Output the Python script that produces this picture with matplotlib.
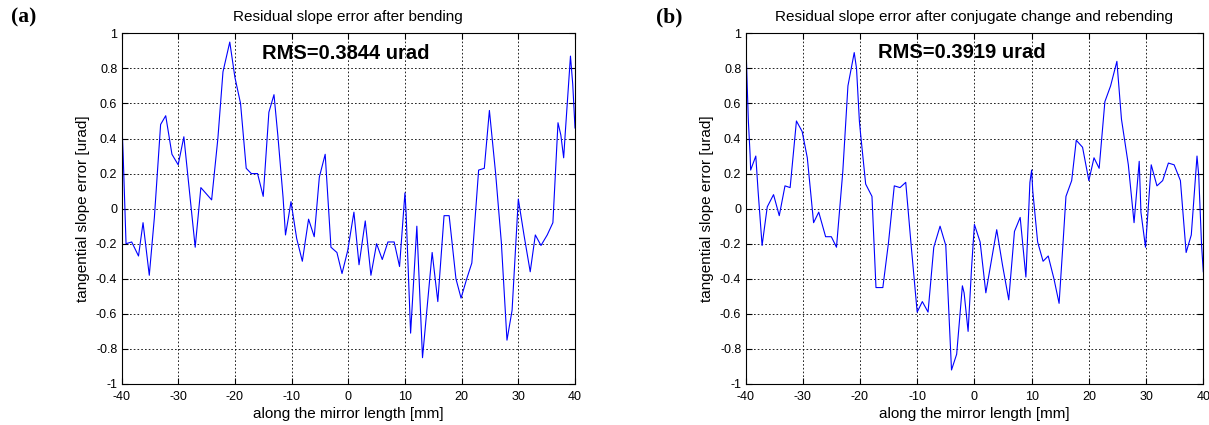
import matplotlib
matplotlib.use("Agg")
import matplotlib.pyplot as plt

# ---- data ----
xa = [-40, -39.7, -39.2, -38.2, -37.0, -36.2, -35.1, -34.2, -33.1, -32.2, -31.1, -30.0, -29.0,
      -27.0, -26.0, -24.1, -23.0, -22.1, -20.9, -20.0, -19.0, -18.0, -17.1, -16.0, -15.0, -14.0,
      -13.1, -12.4, -11.5, -11.07, -10.6, -10.1, -9.1, -8.1, -7.0, -6.0, -5.1, -4.07, -3.05, -2.0,
      -1.1, -0.1, 1.0, 1.9, 3.0, 4.0, 5.0, 6.0, 7.0, 8.1, 9.05, 10.0, 10.2, 11.0, 12.1, 13.1,
      14.8, 15.8, 16.9, 17.8, 19.0, 19.9, 20.9, 21.8, 23.0, 24.0, 24.9, 26.0, 27.0, 28.0, 28.9,
      30.0, 31.0, 32.1, 33.0, 34.0, 35.1, 36.1, 37.0, 37.5, 38.0, 38.3, 39.2, 39.6, 40.0]
ya = [0.55, 0.3, -0.2, -0.19, -0.27, -0.08, -0.38, -0.05, 0.48, 0.53, 0.31, 0.25, 0.41,
      -0.22, 0.12, 0.05, 0.4, 0.78, 0.95, 0.75, 0.6, 0.23, 0.2, 0.2, 0.07, 0.55,
      0.65, 0.41, 0.065, -0.15, -0.06, 0.04, -0.17, -0.30, -0.06, -0.16, 0.18, 0.31, -0.22, -0.25,
      -0.37, -0.24, -0.02, -0.32, -0.07, -0.38, -0.2, -0.29, -0.19, -0.19, -0.33, 0.09, -0.02, -0.71, -0.1, -0.85,
      -0.25, -0.53, -0.04, -0.04, -0.4, -0.51, -0.4, -0.31, 0.22, 0.23, 0.56, 0.2, -0.19, -0.75, -0.58,
      0.055, -0.15, -0.36, -0.15, -0.21, -0.15, -0.08, 0.49, 0.42, 0.29, 0.44, 0.87, 0.71, 0.46]

xb = [-40, -39.7, -39.5, -39.2, -39.1, -38.2, -37.8, -37.1, -36.2, -35.1, -34.1, -33.1, -32.2,
      -31.1, -30.1, -29.2, -28.1, -27.2, -26.0, -25.0, -24.1, -23.0, -22.1, -21.0, -20.6, -20.1,
      -19.9, -19.0, -17.9, -17.2, -16.0, -15.0, -14.0, -13.0, -12.0, -11.05, -10.0, -9.1, -8.1,
      -7.1, -6.0, -5.0, -4.0, -3.1, -2.1, -1.8, -1.1, -0.5, 0.0, 1.0, 2.0, 3.0, 3.9, 4.9, 6.0,
      7.0, 8.0, 9.0, 9.7, 10.0, 10.2, 11.05, 12.0, 12.9, 13.9, 14.8, 15.5, 16.0, 17.0, 17.8,
      18.9, 20.0, 20.9, 21.8, 22.8, 23.8, 24.9, 25.7, 26.9, 27.9, 28.8, 29.1, 29.9, 30.9, 31.9,
      32.9, 33.9, 34.9, 36.0, 37.0, 37.9, 38.9, 39.2, 39.7, 40.0]
yb = [1.02, 0.70, 0.5, 0.31, 0.22, 0.30, 0.1, -0.21, 0.01, 0.08, -0.04, 0.13, 0.12,
      0.5, 0.44, 0.29, -0.08, -0.02, -0.16, -0.16, -0.22, 0.21, 0.7, 0.89, 0.8, 0.5,
      0.43, 0.14, 0.07, -0.45, -0.45, -0.19, 0.13, 0.12, 0.15, -0.21, -0.59, -0.53, -0.59,
      -0.22, -0.1, -0.21, -0.92, -0.83, -0.44, -0.48, -0.70, -0.34, -0.09, -0.19, -0.48, -0.29, -0.12, -0.32, -0.52,
      -0.13, -0.05, -0.39, 0.15, 0.22, 0.1, -0.19, -0.3, -0.27, -0.4, -0.54, -0.19, 0.07, 0.16, 0.39,
      0.35, 0.16, 0.29, 0.23, 0.61, 0.7, 0.84, 0.51, 0.25, -0.08, 0.27, -0.02, -0.22, 0.25, 0.13,
      0.16, 0.26, 0.25, 0.16, -0.25, -0.15, 0.3, 0.19, -0.21, -0.36]

xticks = [-40, -30, -20, -10, 0, 10, 20, 30, 40]
yticks = [-1, -0.8, -0.6, -0.4, -0.2, 0, 0.2, 0.4, 0.6, 0.8, 1]
ytick_labels = ["-1", "-0.8", "-0.6", "-0.4", "-0.2", "0", "0.2", "0.4", "0.6", "0.8", "1"]

titles = ["Residual slope error after bending",
          "Residual slope error after conjugate change and rebending"]
rms_texts = ["RMS=0.3844 urad", "RMS=0.3919 urad"]
panel_labels = ["(a)", "(b)"]
xlabel = "along the mirror length [mm]"
ylabel = "tangential slope error [urad]"

plt.rcParams['font.family'] = ['Liberation Sans', 'DejaVu Sans']

fig = plt.figure(figsize=(12.09, 4.25), dpi=100)
W, H = 1209, 425

def px_axes(x0, x1, ytop, ybot):
    return fig.add_axes([x0 / W, 1 - ybot / H, (x1 - x0) / W, (ybot - ytop) / H])

ax1 = px_axes(121.5, 575, 33.3, 384)
ax2 = px_axes(745.5, 1203.3, 33.3, 384)

series = [(xa, ya), (xb, yb)]
rms_pos = [(-15.2, 0.885), (-16.9, 0.89)]
label_px = [(11, 17), (656, 17)]

for i, ax in enumerate([ax1, ax2]):
    xs, ys = series[i]
    ax.plot(xs, ys, color=(0, 0, 1), lw=0.8, clip_on=True)
    ax.set_xlim(-40, 40)
    ax.set_ylim(-1, 1)
    ax.set_xticks(xticks)
    ax.set_xticklabels([str(t) for t in xticks])
    ax.set_yticks(yticks)
    ax.set_yticklabels(ytick_labels)
    ax.tick_params(axis='both', direction='in', length=4, width=0.8, top=True, right=True,
                   labelsize=9, colors='black')
    ax.tick_params(axis='x', pad=5)
    ax.tick_params(axis='y', pad=3)
    ax.grid(True, color='black', linestyle=(0, (2, 2.5)), linewidth=0.6)
    for s in ax.spines.values():
        s.set_linewidth(0.8)
        s.set_color('black')
    ax.set_title(titles[i], fontsize=11, pad=9)
    ax.set_xlabel(xlabel, fontsize=11, labelpad=3)
    ax.set_ylabel(ylabel, fontsize=11, labelpad=4)
    ax.text(rms_pos[i][0], rms_pos[i][1], rms_texts[i], fontsize=14.5, fontweight='bold',
            ha='left', va='center')
    fig.text(label_px[i][0] / W, 1 - label_px[i][1] / H, panel_labels[i],
             fontsize=15.5, fontweight='bold', family='Liberation Serif',
             ha='left', va='center')

fig.savefig("out.png", dpi=100)
